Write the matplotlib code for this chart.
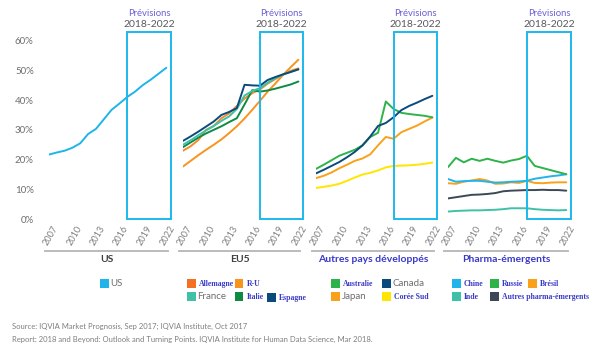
import matplotlib.pyplot as plt
from matplotlib.patches import Rectangle
from matplotlib.lines import Line2D
from matplotlib.transforms import ScaledTranslation, blended_transform_factory

plt.rcParams['font.family'] = ['Lato', 'DejaVu Sans']

W, H = 609, 358

years = list(range(2007, 2023))
tick_years = [2007, 2010, 2013, 2016, 2019, 2022]
yticks = [0, 10, 20, 30, 40, 50, 60]

# US
us = [21.7, 22.4, 23.0, 24.0, 25.5, 28.6, 30.3, 33.5, 36.7, 38.8, 41.0, 42.8, 45.0, 46.8, 48.8, 50.8]

# EU5
allemagne = [23.0, 24.5, 26.6, 30.0, 31.3, 33.9, 35.5, 38.0, 40.5, 42.3, 43.5, 45.5, 47.0, 48.5, 49.8, 50.6]
ru = [17.7, 19.6, 21.5, 23.3, 25.0, 26.8, 28.9, 31.2, 33.8, 36.7, 39.7, 42.8, 45.5, 48.4, 51.0, 53.5]
france = [25.0, 26.5, 28.2, 29.8, 31.3, 33.0, 34.5, 37.0, 41.5, 43.0, 44.0, 45.8, 47.3, 48.5, 49.4, 50.2]
italie = [24.2, 25.8, 27.4, 28.8, 30.0, 31.2, 32.6, 33.9, 38.5, 43.3, 42.8, 43.2, 43.8, 44.5, 45.2, 46.2]
espagne = [26.3, 27.8, 29.4, 31.1, 32.8, 35.0, 36.0, 37.3, 45.1, 44.9, 44.8, 46.7, 47.7, 48.6, 49.4, 50.3]

# Autres pays developpes
australie = [16.9, 18.3, 19.8, 21.3, 22.3, 23.3, 24.8, 27.6, 29.0, 39.5, 37.0, 35.7, 35.3, 35.0, 34.7, 34.2]
canada = [15.4, 16.6, 17.9, 19.2, 20.8, 22.6, 24.8, 27.8, 31.3, 32.3, 34.2, 36.6, 38.0, 39.1, 40.3, 41.4]
japan = [13.8, 14.6, 15.7, 17.1, 18.3, 19.6, 20.4, 21.8, 24.8, 27.6, 27.0, 29.2, 30.3, 31.4, 32.8, 34.1]
coree = [10.5, 10.9, 11.3, 11.9, 12.9, 14.0, 15.0, 15.6, 16.4, 17.4, 17.9, 18.0, 18.1, 18.3, 18.6, 19.0]

# Pharma-emergents
chine = [13.5, 12.6, 12.8, 12.9, 12.9, 12.6, 12.3, 12.4, 12.6, 12.7, 12.9, 13.6, 14.0, 14.4, 14.7, 15.1]
russie = [17.5, 20.6, 19.1, 20.3, 19.6, 20.3, 19.6, 19.0, 19.7, 20.2, 21.3, 17.9, 17.2, 16.5, 15.8, 15.1]
bresil = [12.1, 11.9, 12.6, 13.0, 13.5, 13.0, 11.9, 12.0, 12.4, 12.2, 12.9, 12.2, 12.1, 12.3, 12.4, 12.4]
inde = [2.6, 2.8, 2.9, 3.0, 3.0, 3.1, 3.2, 3.4, 3.7, 3.7, 3.7, 3.4, 3.2, 3.1, 3.0, 3.1]
autres_pharma = [7.0, 7.4, 7.8, 8.2, 8.3, 8.5, 8.8, 9.4, 9.6, 9.7, 9.8, 9.8, 9.9, 9.8, 9.8, 9.6]

C_LBLUE = '#1fb4ea'
C_RED_OR = '#f36f21'
C_ORANGE = '#f7941d'
C_TEAL = '#3ec1a6'
C_DGREEN = '#0e8a43'
C_NAVY = '#0c4a7c'
C_GREEN = '#2db34a'
C_YORANGE = '#f9a11b'
C_YELLOW = '#ffe600'
C_SLATE = '#3d4856'

BLUE_TXT = '#3a3ac8'
GRAY_TXT = '#6d6e71'

panels = [
    ('US', [(us, C_LBLUE)], 49, 171, 'normal'),
    ('EU5', [(ru, C_ORANGE), (allemagne, '#f68a2c'), (italie, C_DGREEN),
             (france, C_TEAL), (espagne, C_NAVY)], 183, 303, 'normal'),
    ('Autres pays développés', [(coree, C_YELLOW), (japan, C_YORANGE),
                                (australie, C_GREEN), (canada, C_NAVY)], 316, 437, 'blue'),
    ('Pharma-émergents', [(inde, C_TEAL), (autres_pharma, C_SLATE), (bresil, C_YORANGE),
                          (chine, C_LBLUE), (russie, C_GREEN)], 448, 571, 'blue'),
]

legends = [
    [('US', C_LBLUE, 100, 283.5, 'n')],
    [('Allemagne', C_RED_OR, 187, 283.5, 'b'), ('R-U', C_ORANGE, 235, 283.5, 'b'),
     ('France', C_TEAL, 187, 296.5, 'n'), ('Italie', C_DGREEN, 235, 296.5, 'b'),
     ('Espagne', C_NAVY, 267, 297.5, 'b')],
    [('Australie', C_GREEN, 331, 283.5, 'b'), ('Canada', C_NAVY, 382, 283.5, 'n'),
     ('Japan', C_YORANGE, 331, 296.5, 'n'), ('Corée Sud', C_YELLOW, 382, 296.5, 'b')],
    [('Chine', C_LBLUE, 452, 283.5, 'b'), ('Russie', C_GREEN, 490, 283.5, 'b'),
     ('Brésil', C_YORANGE, 528, 283.5, 'b'), ('Inde', C_TEAL, 452, 296.5, 'b'),
     ('Autres pharma-émergents', C_SLATE, 490, 296.5, 'b')],
]

fig = plt.figure(figsize=(W / 100, H / 100), dpi=100)

y0, y1 = 219.3, 32
ytop = 62.8
x_end = 2022.6

for i, (name, series, left, right, style) in enumerate(panels):
    ax = fig.add_axes([left / W, 1 - y0 / H, (right - left) / W, (y0 - y1) / H])
    for vals, col in series:
        ax.plot(years, vals, color=col, lw=1.4, solid_capstyle='round')
    ax.set_xlim(2007, x_end)
    ax.set_ylim(0, ytop)
    for s in ax.spines.values():
        s.set_visible(False)
    ax.set_xticks([])
    if i == 0:
        ax.set_yticks(yticks)
        ax.set_yticklabels([f'{v}%' for v in yticks], fontsize=7, color=GRAY_TXT)
        ax.tick_params(axis='y', length=0, pad=11)
    else:
        ax.set_yticks([])

    # forecast box
    ax.add_patch(Rectangle((2017, 0), x_end - 2017, ytop, fill=False,
                           ec='#1cb8ec', lw=1.4, clip_on=False, zorder=5))
    bt = blended_transform_factory(ax.transData, fig.transFigure)
    xc = (2017 + x_end) / 2
    ax.text(xc, 1 - 14 / H, 'Prévisions', transform=bt, ha='center', va='center',
            fontsize=6.8, color='#6a5fd6')
    ax.text(xc, 1 - 24.5 / H, '2018-2022', transform=bt, ha='center', va='center',
            fontsize=7.5, color='#58595b')

    # rotated year labels
    off = ScaledTranslation(7 / 100, 0, fig.dpi_scale_trans)
    for yr in tick_years:
        ax.text(yr, 1 - 226 / H, str(yr), transform=bt + off, rotation=60,
                rotation_mode='anchor', ha='right', va='center',
                fontsize=6.6, color='#7d7e81')

    # group underline and name
    fig.add_artist(Line2D([(left - 4) / W, (right - 3) / W], [1 - 250.7 / H] * 2,
                          color='#b5b5b5', lw=1.3))
    if style == 'blue':
        fig.text((left + right - 7) / 2 / W, 1 - 259 / H, name, ha='center', va='center',
                 fontsize=7.5, fontweight='bold', color=BLUE_TXT)
    else:
        fig.text((left + right - 7) / 2 / W, 1 - 259 / H, name, ha='center', va='center',
                 fontsize=7.5, fontweight='bold', color='#404040')

    # legend
    for lab, col, sx, sy, st in legends[i]:
        fig.add_artist(Rectangle((sx / W, 1 - (sy + 4.5) / H), 8.5 / W, 9 / H,
                                 transform=fig.transFigure, color=col, lw=0))
        if st == 'b':
            fig.text((sx + 12) / W, 1 - (sy + 0.5) / H, lab, ha='left', va='center',
                     fontsize=5.6, fontweight='bold', color=BLUE_TXT,
                     family=['Liberation Serif', 'DejaVu Serif'])
        else:
            fig.text((sx + 10.5) / W, 1 - sy / H, lab, ha='left', va='center',
                     fontsize=7, color=GRAY_TXT)

fig.text(12 / W, 1 - 326 / H, 'Source: IQVIA Market Prognosis, Sep 2017; IQVIA Institute, Oct 2017',
         ha='left', va='center', fontsize=5.5, color='#7d7e81')
fig.text(12 / W, 1 - 339 / H,
         'Report: 2018 and Beyond: Outlook and Turning Points. IQVIA Institute for Human Data Science, Mar 2018.',
         ha='left', va='center', fontsize=5.5, color='#7d7e81')

fig.savefig('out.png', dpi=100, facecolor='white')
